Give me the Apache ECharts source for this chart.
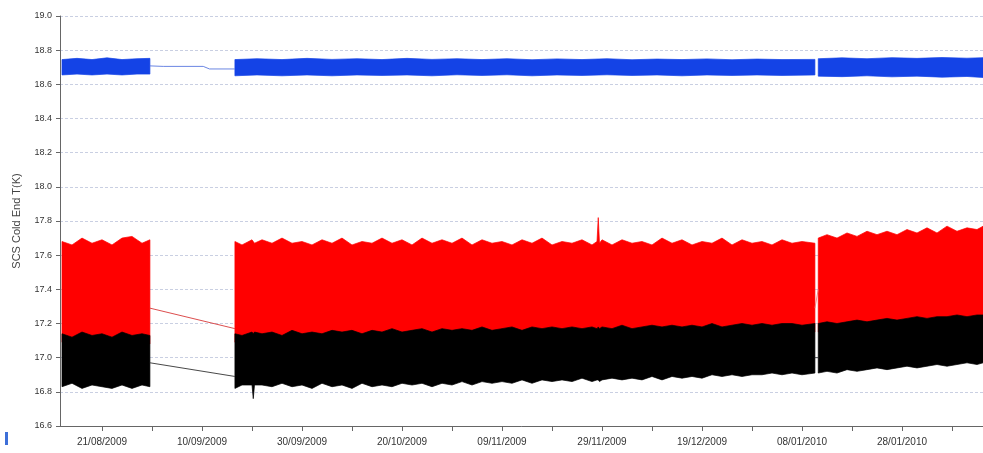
<!DOCTYPE html>
<html>
<head>
<meta charset="utf-8">
<script src="https://cdn.jsdelivr.net/npm/echarts@6/dist/echarts.min.js"></script>
<style>html,body{margin:0;padding:0;background:#fff}#c{width:983px;height:453px}</style>
</head>
<body>
<div id="c"></div>
<script>
// ---- data (null = gap in the record) ----
const bandDates = [
  '2009-08-13','2009-08-15','2009-08-17','2009-08-19','2009-08-21','2009-08-23','2009-08-25','2009-08-27','2009-08-29','2009-08-30T14:00',
  null,
  '2009-09-16T14:00','2009-09-18','2009-09-20T00:00','2009-09-20T06:00','2009-09-20T12:00','2009-09-22','2009-09-24','2009-09-26','2009-09-28','2009-09-30',
  '2009-10-02','2009-10-04','2009-10-06','2009-10-08','2009-10-10','2009-10-12','2009-10-14','2009-10-16','2009-10-18','2009-10-20','2009-10-22','2009-10-24','2009-10-26','2009-10-28','2009-10-30',
  '2009-11-01','2009-11-03','2009-11-05','2009-11-07','2009-11-09','2009-11-11','2009-11-13','2009-11-15','2009-11-17','2009-11-19','2009-11-21','2009-11-23','2009-11-25','2009-11-27',
  '2009-11-28T00:00','2009-11-28T06:00','2009-11-28T12:00','2009-11-29',
  '2009-12-01','2009-12-03','2009-12-05','2009-12-07','2009-12-09','2009-12-11','2009-12-13','2009-12-15','2009-12-17','2009-12-19','2009-12-21','2009-12-23','2009-12-25','2009-12-27','2009-12-29','2009-12-31',
  '2010-01-02','2010-01-04','2010-01-06','2010-01-08','2010-01-10T14:00',
  null,
  '2010-01-11T06:00','2010-01-13','2010-01-15','2010-01-17','2010-01-19','2010-01-21','2010-01-23','2010-01-25','2010-01-27','2010-01-29','2010-01-31',
  '2010-02-02','2010-02-04','2010-02-06','2010-02-08','2010-02-10','2010-02-12','2010-02-13T06:00'
];
const redHigh = [
  17.68,17.66,17.70,17.67,17.69,17.66,17.70,17.71,17.67,17.69,
  null,
  17.68,17.66,17.69,17.68,17.67,17.69,17.67,17.70,17.67,17.68,
  17.66,17.69,17.67,17.70,17.66,17.68,17.67,17.70,17.67,17.69,17.66,17.70,17.67,17.69,17.67,
  17.70,17.66,17.69,17.67,17.68,17.66,17.69,17.67,17.70,17.66,17.68,17.67,17.69,17.66,
  17.68,17.82,17.67,17.69,
  17.66,17.69,17.67,17.68,17.66,17.70,17.67,17.69,17.66,17.68,17.67,17.70,17.66,17.69,17.67,17.68,
  17.66,17.69,17.67,17.68,17.67,
  null,
  17.70,17.72,17.70,17.73,17.71,17.74,17.72,17.74,17.72,17.75,17.73,
  17.76,17.73,17.77,17.74,17.76,17.75,17.77
];
const blackHigh = [
  17.14,17.12,17.15,17.13,17.14,17.12,17.15,17.13,17.14,17.13,
  null,
  17.14,17.13,17.15,17.14,17.15,17.14,17.15,17.13,17.16,17.14,
  17.15,17.14,17.16,17.15,17.16,17.14,17.16,17.15,17.17,17.15,17.16,17.17,17.15,17.17,17.16,
  17.17,17.16,17.18,17.16,17.17,17.18,17.16,17.18,17.17,17.18,17.17,17.18,17.17,17.18,
  17.17,17.18,17.17,17.18,
  17.17,17.19,17.17,17.18,17.19,17.18,17.19,17.18,17.19,17.18,17.20,17.18,17.19,17.20,17.19,17.20,
  17.19,17.20,17.20,17.19,17.20,
  null,
  17.20,17.21,17.20,17.21,17.22,17.21,17.22,17.23,17.22,17.23,17.24,
  17.23,17.24,17.24,17.25,17.24,17.25,17.25
];
const blackLow = [
  16.83,16.85,16.82,16.84,16.83,16.82,16.84,16.82,16.84,16.83,
  null,
  16.82,16.84,16.84,16.76,16.84,16.84,16.83,16.85,16.83,16.84,
  16.82,16.85,16.83,16.84,16.82,16.85,16.83,16.84,16.83,16.85,16.84,16.85,16.83,16.85,16.84,
  16.86,16.84,16.86,16.85,16.86,16.85,16.87,16.85,16.87,16.86,16.87,16.86,16.88,16.86,
  16.87,16.87,16.86,16.87,
  16.88,16.87,16.88,16.87,16.89,16.87,16.89,16.88,16.89,16.88,16.90,16.89,16.90,16.89,16.90,16.90,
  16.91,16.90,16.91,16.90,16.91,
  null,
  16.91,16.92,16.91,16.93,16.92,16.93,16.94,16.93,16.94,16.95,16.94,
  16.95,16.96,16.95,16.96,16.97,16.96,16.97
];
const blueDates = [
  '2009-08-13','2009-08-16','2009-08-19','2009-08-22','2009-08-25','2009-08-28','2009-08-30T14:00',
  null,
  '2009-09-16T14:00','2009-09-21','2009-09-26','2009-10-01','2009-10-06','2009-10-11','2009-10-16','2009-10-21','2009-10-26','2009-10-31',
  '2009-11-05','2009-11-10','2009-11-15','2009-11-20','2009-11-25','2009-11-30','2009-12-05','2009-12-10','2009-12-15','2009-12-20','2009-12-25','2009-12-30',
  '2010-01-04','2010-01-10T14:00',
  null,
  '2010-01-11T06:00','2010-01-16','2010-01-21','2010-01-26','2010-01-31','2010-02-05','2010-02-10','2010-02-13T06:00'
];
const blueLow = [
  18.655,18.660,18.655,18.660,18.655,18.660,18.660,
  null,
  18.650,18.655,18.650,18.655,18.650,18.655,18.652,18.655,18.650,18.656,
  18.652,18.656,18.650,18.655,18.652,18.656,18.652,18.655,18.650,18.655,18.652,18.655,
  18.652,18.655,
  null,
  18.648,18.645,18.650,18.644,18.648,18.642,18.646,18.640
];
const blueHigh = [
  18.745,18.752,18.745,18.755,18.745,18.750,18.752,
  null,
  18.745,18.750,18.745,18.752,18.746,18.750,18.745,18.752,18.746,18.750,
  18.745,18.750,18.744,18.749,18.745,18.750,18.744,18.748,18.745,18.749,18.744,18.748,
  18.745,18.746,
  null,
  18.750,18.755,18.750,18.756,18.752,18.757,18.753,18.756
];
// lines joining the record across the gaps
const blueGap  = [['2009-08-30T14:00',18.708],['2009-09-02T06:00',18.705],['2009-09-10T06:00',18.705],['2009-09-11T12:00',18.690],['2009-09-16T14:00',18.690]];
const redGap1  = [['2009-08-30T14:00',17.29],['2009-09-16T14:00',17.17]];
const blackGap1= [['2009-08-30T14:00',16.97],['2009-09-16T14:00',16.89]];
const redGap2  = [['2010-01-10T14:00',17.29],['2010-01-11T06:00',17.40]];
const blackGap2= [['2010-01-10T14:00',17.00],['2010-01-11T06:00',17.00]];
// axis ticks
const xLabelDates = ['2009-08-21','2009-09-10','2009-09-30','2009-10-20','2009-11-09','2009-11-29','2009-12-19','2010-01-08','2010-01-28'];
const xTickDates  = ['2009-08-21','2009-08-31','2009-09-10','2009-09-20','2009-09-30','2009-10-10','2009-10-20','2009-10-30','2009-11-09','2009-11-19','2009-11-29','2009-12-09','2009-12-19','2009-12-29','2010-01-08','2010-01-18','2010-01-28','2010-02-07'];
const xMin = '2009-08-12T14:24', xMax = '2010-02-13T04:48';
const yMin = 16.6, yMax = 19.0, yStep = 0.2;

// ---- helpers ----
function ts(d){ if (d.length === 10) d += 'T00:00'; return Date.parse(d + ':00Z'); }
function pad(n){ return (n < 10 ? '0' : '') + n; }
function fmt(v){ const d = new Date(v); return pad(d.getUTCDate()) + '/' + pad(d.getUTCMonth()+1) + '/' + d.getUTCFullYear(); }
// split a band record into contiguous segments of [t, lo, hi]
function segments(dates, lo, hi){
  const out = []; let cur = [];
  for (let i = 0; i < dates.length; i++){
    if (dates[i] === null){ if (cur.length) out.push(cur); cur = []; continue; }
    cur.push([ts(dates[i]), lo[i], hi[i]]);
  }
  if (cur.length) out.push(cur);
  return out;
}
function bandSeries(segs, color, z){
  return {
    type:'custom', silent:true, z, clip:true,
    encode:{x:[0,1], y:[2,3]},
    data: segs.map(s => [s[0][0], s[s.length-1][0], Math.min(...s.map(p=>p[1])), Math.max(...s.map(p=>p[2]))]),
    renderItem(params, api){
      const s = segs[params.dataIndex];
      const up = s.map(p => api.coord([p[0], p[2]]));
      const dn = s.slice().reverse().map(p => api.coord([p[0], p[1]]));
      return {type:'polygon', shape:{points: up.concat(dn)}, style:{fill:color, stroke:color, lineWidth:0.7}};
    }
  };
}
function pts(a){ return a.map(p => [ts(p[0]), p[1]]); }
function gapSeries(data, color, w){
  return {type:'line', data: pts(data), symbol:'none', silent:true, lineStyle:{width:w, color}, z:5};
}

const RED = '#ff0000', BLACK = '#000000', BLUE = '#1443e6';
// red record sits on top of black; its lower part is hidden under the black band
const redLow = blackHigh.map(v => v === null ? null : v - 0.05);

const chart = echarts.init(document.getElementById('c'), null, {renderer:'canvas'});
chart.setOption({
  animation:false,
  backgroundColor:'#ffffff',
  textStyle:{fontFamily:'Liberation Sans, Arial, sans-serif'},
  grid:{left:60, right:0, top:16, bottom:27, containLabel:false},
  xAxis:{
    type:'value', min:ts(xMin), max:ts(xMax),
    axisLine:{lineStyle:{color:'#666', width:1}},
    axisTick:{show:true, length:5, lineStyle:{color:'#666'}, customValues: xTickDates.map(ts)},
    axisLabel:{fontSize:10, color:'#333', margin:11, customValues: xLabelDates.map(ts), formatter: fmt},
    splitLine:{show:false}
  },
  yAxis:{
    type:'value', min:yMin, max:yMax, interval:yStep,
    name:'SCS Cold End T(K)', nameLocation:'middle', nameGap:38,
    nameTextStyle:{fontSize:11, color:'#444'},
    axisLine:{show:true, lineStyle:{color:'#666', width:1}},
    axisTick:{show:true, length:4, lineStyle:{color:'#666'}},
    axisLabel:{fontSize:9, color:'#333', margin:8, formatter: v => v.toFixed(1)},
    splitLine:{show:true, lineStyle:{color:'#c9cfe2', width:1, type:[3,2]}}
  },
  graphic:[{type:'rect', left:5, top:432, shape:{width:3, height:13}, style:{fill:'#3d6fd8'}}],
  series:[
    bandSeries(segments(bandDates, redLow, redHigh), RED, 3),
    bandSeries(segments(bandDates, blackLow, blackHigh), BLACK, 4),
    bandSeries(segments(blueDates, blueLow, blueHigh), BLUE, 3),
    gapSeries(blueGap, '#5a78e0', 0.9),
    gapSeries(redGap1, '#d83a3a', 0.9),
    gapSeries(blackGap1, '#333333', 0.9),
    gapSeries(redGap2, '#f07070', 0.8),
    gapSeries(blackGap2, '#333333', 0.8)
  ]
});
</script>
</body>
</html>
